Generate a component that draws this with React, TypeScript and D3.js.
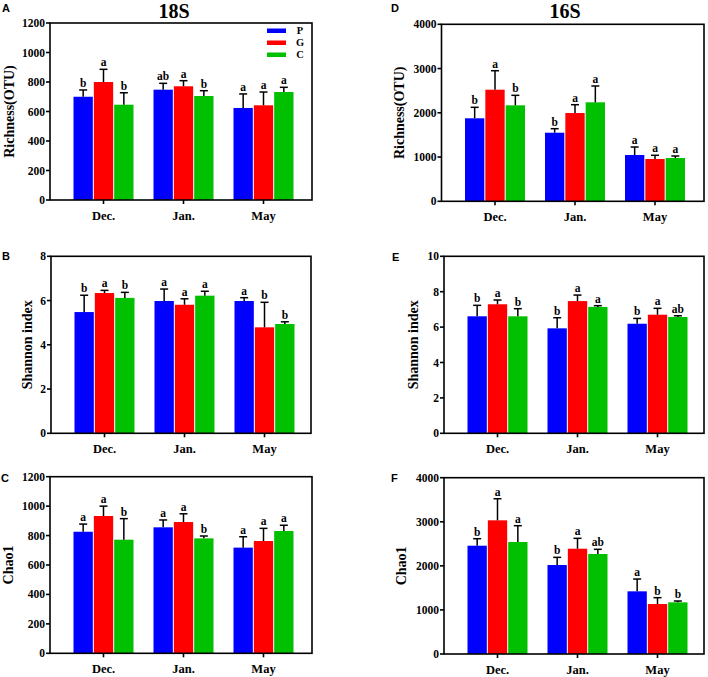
import React from "react";
import * as d3 from "d3";

const months = ["Dec.", "Jan.", "May"];
const groups = ["P", "G", "C"];
const colors = ["#0000ff", "#ff0000", "#00c000"];

// Panel A: 18S Richness(OTU)
const aMean = [[700, 800, 646], [748, 771, 705], [624, 642, 732]];
const aErr = [[46, 86, 81], [43, 38, 36], [95, 90, 32]];
const aLetters = [["b", "a", "b"], ["ab", "a", "b"], ["a", "a", "a"]];
const aTicks = [0, 200, 400, 600, 800, 1000, 1200];

// Panel B: 18S Shannon index
const bMean = [[5.48, 6.34, 6.12], [5.98, 5.81, 6.22], [5.98, 4.79, 4.94]];
const bErr = [[0.76, 0.12, 0.25], [0.54, 0.27, 0.2], [0.15, 1.13, 0.1]];
const bLetters = [["b", "a", "b"], ["a", "a", "a"], ["a", "b", "b"]];
const bTicks = [0, 2, 4, 6, 8];

// Panel C: 18S Chao1
const cMean = [[826, 933, 772], [856, 892, 781], [718, 763, 831]];
const cErr = [[52, 67, 143], [50, 56, 16], [74, 86, 39]];
const cLetters = [["a", "a", "b"], ["a", "a", "b"], ["a", "a", "a"]];
const cTicks = [0, 200, 400, 600, 800, 1000, 1200];

// Panel D: 16S Richness(OTU)
const dMean = [[1876, 2522, 2169], [1550, 1995, 2237], [1046, 956, 979]];
const dErr = [[248, 429, 226], [91, 188, 369], [181, 84, 45]];
const dLetters = [["b", "a", "b"], ["b", "a", "a"], ["a", "a", "a"]];
const dTicks = [0, 1000, 2000, 3000, 4000];

// Panel E: 16S Shannon index
const eMean = [[6.61, 7.29, 6.61], [5.93, 7.47, 7.14], [6.19, 6.7, 6.57]];
const eErr = [[0.62, 0.24, 0.43], [0.6, 0.34, 0.07], [0.3, 0.36, 0.07]];
const eLetters = [["b", "a", "b"], ["b", "a", "a"], ["b", "a", "ab"]];
const eTicks = [0, 2, 4, 6, 8, 10];

// Panel F: 16S Chao1
const fMean = [[2457, 3033, 2541], [2019, 2389, 2269], [1422, 1134, 1172]];
const fErr = [[159, 490, 370], [174, 235, 106], [279, 144, 30]];
const fLetters = [["b", "a", "a"], ["b", "a", "ab"], ["a", "b", "b"]];
const fTicks = [0, 1000, 2000, 3000, 4000];

const SERIF = "'Liberation Serif', 'Times New Roman', serif";
const SANS = "'Liberation Sans', Arial, sans-serif";

type PanelProps = {
  tag: string;
  tagX: number;
  tagY: number;
  left: number;
  right: number;
  top: number;
  bottom: number;
  mean: number[][];
  err: number[][];
  letters: string[][];
  ticks: number[];
  yLabel: string;
  yLabelX: number;
  legend?: boolean;
};

function Panel(p: PanelProps) {
  const yMax = p.ticks[p.ticks.length - 1];
  const y = d3.scaleLinear().domain([0, yMax]).range([p.bottom, p.top]);
  const x0 = d3
    .scalePoint<string>()
    .domain(months)
    .range([p.left + 53.5, p.left + 213.5]);
  const x1 = d3
    .scaleBand<string>()
    .domain(groups)
    .range([-30, 30])
    .paddingInner(0.05);
  const bw = x1.bandwidth();
  const midY = (p.top + p.bottom) / 2;
  return (
    <g>
      <text x={p.tagX} y={p.tagY} fontFamily={SANS} fontWeight="bold" fontSize={11}>
        {p.tag}
      </text>
      {months.map((m, i) =>
        groups.map((g, j) => {
          const cx = (x0(m) as number) + (x1(g) as number);
          const v = p.mean[i][j];
          const top = y(v + p.err[i][j]);
          return (
            <g key={m + g}>
              <rect x={cx} y={y(v)} width={bw} height={p.bottom - y(v)} fill={colors[j]} />
              <line x1={cx + bw / 2} x2={cx + bw / 2} y1={y(v)} y2={top} stroke="#000" strokeWidth={1.5} />
              <line x1={cx + bw / 2 - 4} x2={cx + bw / 2 + 4} y1={top} y2={top} stroke="#000" strokeWidth={1.5} />
              <text
                x={cx + bw / 2}
                y={top - 3}
                textAnchor="middle"
                fontFamily={SERIF}
                fontWeight="bold"
                fontSize={11.5}
              >
                {p.letters[i][j]}
              </text>
            </g>
          );
        })
      )}
      <rect
        x={p.left}
        y={p.top}
        width={p.right - p.left}
        height={p.bottom - p.top}
        fill="none"
        stroke="#000"
        strokeWidth={1.6}
      />
      {p.ticks.map((t) => (
        <g key={t}>
          <line x1={p.left - 4} x2={p.left} y1={y(t)} y2={y(t)} stroke="#000" strokeWidth={1.6} />
          <text
            x={p.left - 5}
            y={y(t)}
            dy="0.35em"
            textAnchor="end"
            fontFamily={SERIF}
            fontWeight="bold"
            fontSize={11.5}
          >
            {t}
          </text>
        </g>
      ))}
      {months.map((m) => (
        <g key={m}>
          <line
            x1={x0(m) as number}
            x2={x0(m) as number}
            y1={p.bottom}
            y2={p.bottom + 4}
            stroke="#000"
            strokeWidth={1.6}
          />
          <text
            x={x0(m) as number}
            y={p.bottom + 19.5}
            textAnchor="middle"
            fontFamily={SERIF}
            fontWeight="bold"
            fontSize={12.5}
          >
            {m}
          </text>
        </g>
      ))}
      <text
        transform={`translate(${p.yLabelX},${midY}) rotate(-90)`}
        textAnchor="middle"
        fontFamily={SERIF}
        fontWeight="bold"
        fontSize={14}
      >
        {p.yLabel}
      </text>
      {p.legend &&
        groups.map((g, j) => (
          <g key={g}>
            <rect x={p.right - 45} y={28.5 + j * 12} width={19} height={4.5} fill={colors[j]} />
            <text
              x={p.right - 12}
              y={30.8 + j * 12}
              dy="0.35em"
              textAnchor="middle"
              fontFamily={SERIF}
              fontWeight="bold"
              fontSize={10.4}
            >
              {g}
            </text>
          </g>
        ))}
    </g>
  );
}

export default function App() {
  return (
    <svg
      width={708}
      height={677}
      style={{ position: "absolute", left: 0, top: 0, background: "#fff" }}
    >
      <rect x={0} y={0} width={708} height={677} fill="#fff" />
      <text x={174} y={18} textAnchor="middle" fontFamily={SERIF} fontWeight="bold" fontSize={20}>
        18S
      </text>
      <text x={565} y={18} textAnchor="middle" fontFamily={SERIF} fontWeight="bold" fontSize={20}>
        16S
      </text>
      <Panel tag="A" tagX={2} tagY={12} left={50} right={312} top={23} bottom={200}
        mean={aMean} err={aErr} letters={aLetters} ticks={aTicks} yLabel="Richness(OTU)" yLabelX={14} legend />
      <Panel tag="B" tagX={2} tagY={260} left={51} right={311} top={256.3} bottom={433.3}
        mean={bMean} err={bErr} letters={bLetters} ticks={bTicks} yLabel="Shannon index" yLabelX={31.5} />
      <Panel tag="C" tagX={1} tagY={482} left={50} right={312} top={476.7} bottom={653.3}
        mean={cMean} err={cErr} letters={cLetters} ticks={cTicks} yLabel="Chao1" yLabelX={12.5} />
      <Panel tag="D" tagX={391} tagY={11.5} left={441.5} right={704} top={24.3} bottom={201.3}
        mean={dMean} err={dErr} letters={dLetters} ticks={dTicks} yLabel="Richness(OTU)" yLabelX={404} />
      <Panel tag="E" tagX={392} tagY={261} left={444} right={704} top={256.3} bottom={433.3}
        mean={eMean} err={eErr} letters={eLetters} ticks={eTicks} yLabel="Shannon index" yLabelX={418} />
      <Panel tag="F" tagX={391} tagY={482} left={444} right={704} top={477.7} bottom={654}
        mean={fMean} err={fErr} letters={fLetters} ticks={fTicks} yLabel="Chao1" yLabelX={406} />
    </svg>
  );
}
